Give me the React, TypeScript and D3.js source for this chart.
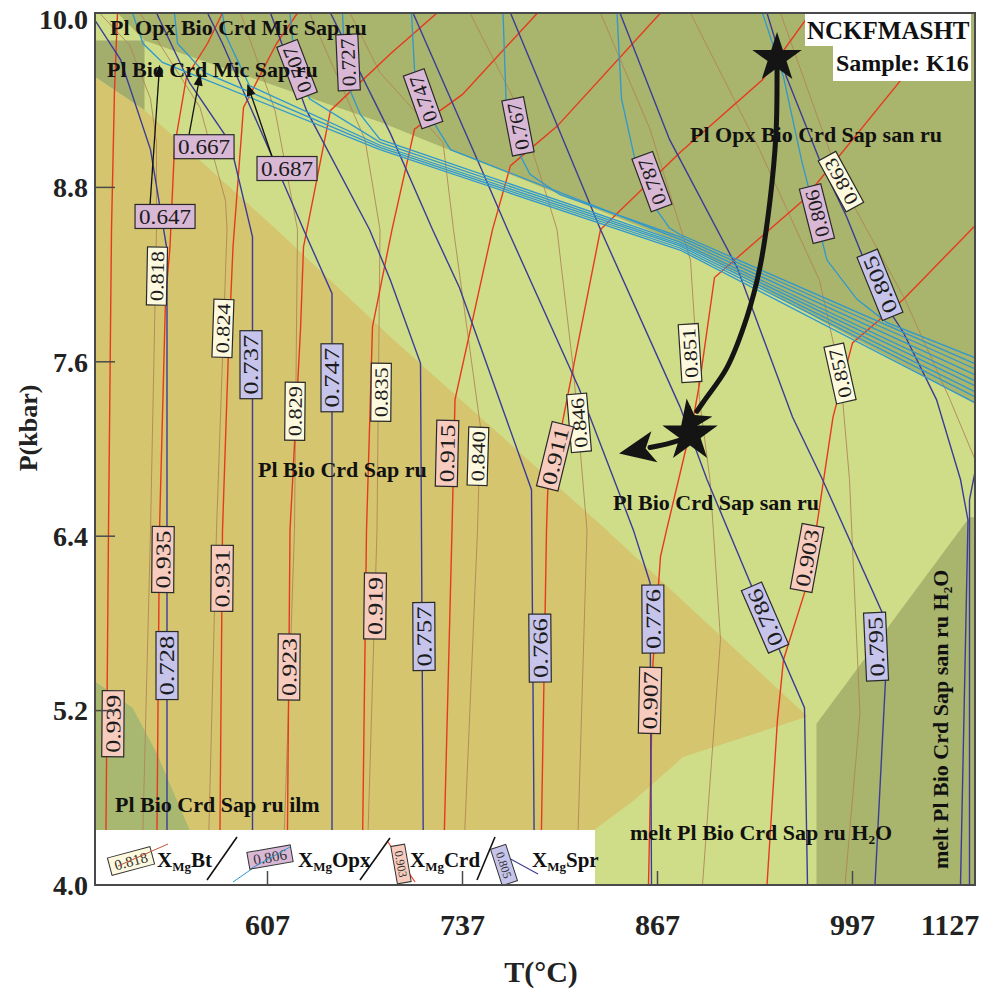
import React from "react";
import * as d3 from "d3";

type Pt = [number, number];
type Tag = { v: string; line: number; t: number; p: number };

const pressureTicks = [4.0, 5.2, 6.4, 7.6, 8.8, 10.0];
const temperatureTicks = [607, 737, 867, 997, 1127];

// ---- phase fields [T(°C), P(kbar)] ----
const fieldOpxSan: Pt[] = [[507, 10.0], [1079, 10.0], [1079, 7.31], [975, 7.89], [882, 8.42], [682, 9.25], [525, 9.81]];
const fieldMic: Pt[] = [[492, 9.81], [525, 9.81], [525, 9.33], [492, 9.56]];
const fieldRu: Pt[] = [[492, 9.56], [525, 9.33], [613, 8.51], [689, 7.77], [829, 6.48], [967, 5.16], [884, 4.88], [851, 4.58], [825, 4.38], [825, 4.0], [492, 4.0]];
const fieldIlm: Pt[] = [[492, 5.4], [517, 5.22], [533, 4.91], [555, 4.38], [562, 4.0], [492, 4.0]];
const fieldMeltSan: Pt[] = [[973, 5.11], [1075, 6.53], [1079, 6.53], [1079, 4.0], [973, 4.0]];

// ---- isopleths ----
const crdLines: Pt[][] = [
  [[499, 4.0], [501, 6.44], [503, 8.51], [505, 9.47], [507, 10.0]],
  [[533, 4.0], [535, 6.44], [539, 8.03], [542, 8.39], [545, 9.08], [553, 9.56], [567, 9.79], [577, 10.0]],
  [[575, 4.0], [577, 6.44], [581, 7.68], [584, 8.39], [591, 9.35], [613, 9.79], [627, 10.0]],
  [[620, 4.0], [622, 6.44], [629, 7.82], [631, 8.39], [649, 9.33], [689, 9.72], [720, 10.0]],
  [[670, 4.0], [673, 6.44], [677, 7.84], [690, 8.51], [705, 9.2], [737, 9.44], [787, 10.0]],
  [[724, 4.0], [730, 6.44], [732, 7.34], [757, 8.51], [769, 8.95], [800, 9.22], [869, 10.0]],
  [[789, 4.0], [793, 6.44], [794, 6.77], [803, 7.15], [829, 8.51], [882, 9.04], [937, 9.54], [969, 10.0]],
  [[861, 4.0], [864, 5.53], [869, 6.26], [873, 6.44], [891, 7.22], [895, 7.45], [905, 8.18], [964, 8.71], [1031, 9.56], [1057, 10.0]],
  [[940, 4.0], [947, 5.14], [951, 5.55], [965, 6.01], [973, 6.46], [984, 7.22], [997, 7.73], [1031, 8.03], [1079, 8.54]],
];

const sprLines: Pt[][] = [
  [[492, 9.95], [509, 9.68], [529, 9.06], [540, 8.37], [540, 4.0]],
  [[533, 10.0], [555, 9.52], [582, 9.11], [597, 8.46], [597, 4.0]],
  [[567, 10.0], [577, 9.79], [611, 8.99], [631, 8.51], [650, 8.07], [650, 4.0]],
  [[609, 10.0], [633, 9.33], [675, 8.51], [689, 8.16], [709, 7.59], [711, 4.0]],
  [[649, 10.0], [689, 9.17], [717, 8.51], [735, 8.11], [783, 6.72], [785, 4.0]],
  [[704, 10.0], [749, 8.94], [767, 8.51], [815, 7.41], [851, 6.44], [862, 6.08], [863, 4.0]],
  [[769, 10.0], [829, 8.51], [882, 7.29], [900, 6.79], [930, 6.05], [965, 5.22], [967, 4.0]],
  [[842, 10.0], [875, 9.13], [920, 8.25], [957, 7.22], [977, 6.79], [1017, 5.87], [1019, 5.41], [1012, 4.0]],
  [[940, 10.0], [953, 9.56], [975, 8.99], [993, 8.6], [1013, 8.09], [1031, 7.8], [1053, 7.34], [1069, 6.79], [1074, 6.51], [1069, 4.0]],
  [[1079, 6.86], [1075, 6.65], [1075, 4.0]],
];

const btLines: Pt[][] = [
  [[495, 10.0], [515, 9.78], [529, 9.41], [533, 9.11], [533, 8.51], [529, 6.44], [523, 4.0]],
  [[522, 10.0], [562, 9.35], [579, 8.71], [580, 8.51], [573, 6.44], [567, 4.0]],
  [[589, 10.0], [612, 9.33], [627, 8.51], [625, 6.44], [617, 4.0]],
  [[635, 10.0], [672, 9.13], [682, 8.51], [680, 6.44], [673, 4.0]],
  [[662, 10.0], [682, 9.59], [724, 9.11], [731, 8.51], [749, 7.15], [747, 6.44], [737, 4.0]],
  [[742, 10.0], [775, 9.33], [792, 8.78], [800, 8.51], [811, 7.54], [820, 6.44], [813, 4.0]],
  [[829, 10.0], [862, 9.2], [889, 8.3], [895, 7.34], [902, 6.79], [909, 5.69], [897, 4.0]],
  [[889, 10.0], [935, 9.06], [975, 8.16], [989, 7.51], [995, 6.79], [1002, 5.18], [992, 4.0]],
  [[949, 10.0], [989, 8.84], [1032, 8.03], [1062, 7.34], [1079, 6.92]],
];

const opxLines: Pt[][] = [
  [[517, 10.0], [524, 9.79], [537, 9.66], [682, 9.06], [882, 8.369], [1079, 7.317]],
  [[545, 10.0], [547, 9.79], [565, 9.59], [682, 9.075], [882, 8.383], [1079, 7.358]],
  [[577, 10.0], [579, 9.85], [595, 9.5], [682, 9.09], [882, 8.397], [1079, 7.392]],
  [[622, 10.0], [625, 9.68], [635, 9.41], [682, 9.11], [882, 8.41], [1079, 7.434]],
  [[657, 10.0], [659, 9.54], [669, 9.3], [682, 9.13], [882, 8.424], [1079, 7.468]],
  [[703, 10.0], [705, 9.61], [717, 9.26], [729, 9.06], [882, 8.442], [1079, 7.509]],
  [[764, 10.0], [766, 9.41], [772, 9.09], [782, 8.89], [802, 8.75], [882, 8.459], [1079, 7.55]],
  [[840, 10.0], [843, 9.41], [852, 8.99], [862, 8.71], [875, 8.52], [882, 8.476], [1079, 7.585]],
  [[937, 10.0], [951, 9.56], [963, 8.99], [980, 8.3], [1000, 8.03], [1020, 7.87], [1079, 7.626]],
];

// ---- isopleth labels ----
const crdTags: Tag[] = [
  { v: "0.939", line: 0, t: 504, p: 5.11 },
  { v: "0.935", line: 1, t: 537.3, p: 6.24 },
  { v: "0.931", line: 2, t: 576.7, p: 6.11 },
  { v: "0.923", line: 3, t: 621.3, p: 5.5 },
  { v: "0.919", line: 4, t: 678.7, p: 5.92 },
  { v: "0.915", line: 5, t: 726.7, p: 6.97 },
  { v: "0.911", line: 6, t: 798.7, p: 6.95 },
  { v: "0.907", line: 7, t: 862, p: 5.27 },
  { v: "0.903", line: 8, t: 966.7, p: 6.25 },
];
const sprTags: Tag[] = [
  { v: "0.728", line: 0, t: 540, p: 5.51 },
  { v: "0.737", line: 1, t: 596, p: 7.58 },
  { v: "0.747", line: 2, t: 650, p: 7.49 },
  { v: "0.757", line: 3, t: 711.3, p: 5.71 },
  { v: "0.766", line: 4, t: 788.7, p: 5.63 },
  { v: "0.776", line: 5, t: 864, p: 5.83 },
  { v: "0.786", line: 6, t: 938.7, p: 5.84 },
  { v: "0.795", line: 7, t: 1012.7, p: 5.64 },
  { v: "0.805", line: 8, t: 1015.3, p: 8.13 },
];
const btTags: Tag[] = [
  { v: "0.818", line: 0, t: 533.3, p: 8.19 },
  { v: "0.824", line: 1, t: 577.3, p: 7.83 },
  { v: "0.829", line: 2, t: 625.3, p: 7.26 },
  { v: "0.835", line: 3, t: 682.7, p: 7.39 },
  { v: "0.840", line: 4, t: 747.3, p: 6.95 },
  { v: "0.846", line: 5, t: 814.7, p: 7.18 },
  { v: "0.851", line: 6, t: 888.7, p: 7.66 },
  { v: "0.857", line: 7, t: 988.7, p: 7.52 },
  { v: "0.863", line: 8, t: 989.3, p: 8.84 },
];
const opxTags: Tag[] = [
  { v: "0.707", line: 3, t: 626.7, p: 9.61 },
  { v: "0.727", line: 4, t: 660.7, p: 9.66 },
  { v: "0.747", line: 5, t: 710.7, p: 9.41 },
  { v: "0.767", line: 6, t: 774, p: 9.22 },
  { v: "0.787", line: 7, t: 863.3, p: 8.84 },
  { v: "0.806", line: 8, t: 973.3, p: 8.62 },
];
const opxCallouts = [
  { v: "0.647", t: 538.7, p: 8.6, tipT: 535, tipP: 9.63 },
  { v: "0.667", t: 564.7, p: 9.08, tipT: 562, tipP: 9.57 },
  { v: "0.687", t: 620, p: 8.93, tipT: 594, tipP: 9.5 },
];

// ---- field names ----
const fieldNames = [
  { text: "Pl Opx Bio Crd Mic Sap ru", t: 502, p: 9.85, rot: 0 },
  { text: "Pl Bio Crd Mic Sap ru", t: 500, p: 9.56, rot: 0 },
  { text: "Pl Opx Bio Crd Sap san ru", t: 888.7, p: 9.11, rot: 0 },
  { text: "Pl Bio Crd Sap ru", t: 600.7, p: 6.81, rot: 0 },
  { text: "Pl Bio Crd Sap san ru", t: 837.3, p: 6.58, rot: 0 },
  { text: "Pl Bio Crd Sap ru ilm", t: 505.3, p: 4.5, rot: 0 },
  { text: "melt Pl Bio Crd Sap ru H2O", t: 848.7, p: 4.31, rot: 0 },
  { text: "melt Pl Bio Crd Sap san ru H2O", t: 1060.7, p: 5.14, rot: -90 },
];

// ---- P–T path ----
const peakStar: Pt = [946.7, 9.69];
const retroStar: Pt = [888.7, 7.1];
const pathDecompression: Pt[] = [[946.7, 9.61], [946, 9.17], [942, 8.71], [935.3, 8.25], [926.7, 7.91], [913.3, 7.56], [898.7, 7.34], [893.3, 7.26]];
const pathCooling: Pt[] = [[887.3, 7.08], [875.3, 7.04], [862, 7.01]];

const FONT = '"Liberation Serif", "Times New Roman", Times, serif';
const RED = "#e8391f";
const NAVY = "#3c3c98";
const CYAN = "#2f98cf";
const BROWN = "#b08658";
const FILL_BT = "#fcf9de";
const FILL_OPX = "#d9b8d6";
const FILL_CRD = "#f7ccbe";
const FILL_SPR = "#c6c4ea";

function withSub(s: string) {
  if (!s.endsWith("H2O")) return s;
  return (
    <>
      {s.slice(0, -3)}H<tspan fontSize="0.6em" dy="4">2</tspan>
      <tspan dy="-4">O</tspan>
    </>
  );
}

export default function App() {
  const L = 95, R = 975, T = 13, B = 885;
  const x = d3.scaleLinear().domain([492, 1078.67]).range([L, R]);
  const y = d3.scaleLinear().domain([4, 10]).range([B, T]);
  const line = d3.line<Pt>().x((d) => x(d[0])).y((d) => y(d[1]));
  const curve = d3.line<Pt>().x((d) => x(d[0])).y((d) => y(d[1])).curve(d3.curveCatmullRom.alpha(0.5));
  const poly = (pts: Pt[]) => (line(pts) || "") + "Z";

  const angleOn = (pts: Pt[], cx: number, cy: number) => {
    let best = Infinity;
    let ang = -90;
    for (let i = 0; i < pts.length - 1; i++) {
      const ax = x(pts[i][0]), ay = y(pts[i][1]);
      const bx = x(pts[i + 1][0]), by = y(pts[i + 1][1]);
      const dx = bx - ax, dy = by - ay;
      const l2 = dx * dx + dy * dy || 1;
      let u = ((cx - ax) * dx + (cy - ay) * dy) / l2;
      u = Math.max(0, Math.min(1, u));
      const px = ax + u * dx, py = ay + u * dy;
      const d = (px - cx) ** 2 + (py - cy) ** 2;
      if (d < best) {
        best = d;
        let ux = dx, uy = dy;
        if (uy > 0) { ux = -ux; uy = -uy; }
        ang = (Math.atan2(uy, ux) * 180) / Math.PI;
      }
    }
    return ang;
  };

  const tagBox = (key: string, cx: number, cy: number, ang: number, text: string, fill: string, len: number, h: number, fs: number) => (
    <g key={key} transform={`translate(${cx},${cy}) rotate(${ang})`}>
      <rect x={-len / 2} y={-h / 2} width={len} height={h} fill={fill} stroke="#2a2a2a" strokeWidth={1.2} />
      <text x={0} y={0} dy="0.35em" textAnchor="middle" fontFamily={FONT} fontSize={fs} fill="#1c1c1c" textLength={len - 8} lengthAdjust="spacingAndGlyphs">
        {text}
      </text>
    </g>
  );

  const tagsFor = (tags: Tag[], lines: Pt[][], fill: string, len: number, h: number, fs: number, prefix: string) =>
    tags.map((tg, i) => {
      const cx = x(tg.t), cy = y(tg.p);
      return tagBox(prefix + i, cx, cy, angleOn(lines[tg.line], cx, cy), tg.v, fill, len, h, fs);
    });

  const star = (s: number) => d3.symbol().type(d3.symbolStar).size(s)() || "";

  const legendText = (xx: number, name: string) => (
    <text x={xx} y={867} fontFamily={FONT} fontWeight="bold" fontSize={21} fill="#111">
      X<tspan fontSize={13} dy={4}>Mg</tspan>
      <tspan dy={-4}>{name}</tspan>
    </text>
  );

  return (
    <div style={{ position: "absolute", left: 0, top: 0, width: 984, height: 990, background: "#fff" }}>
      <svg width={984} height={990} style={{ display: "block" }}>
        <defs>
          <clipPath id="plot">
            <rect x={L} y={T} width={R - L} height={B - T} />
          </clipPath>
          <marker id="bigHead" markerUnits="userSpaceOnUse" markerWidth={44} markerHeight={36} viewBox="-2 -16 36 32" refX={4} refY={0} orient="auto">
            <path d="M0,-14 L32,0 L0,14 L8,0 Z" fill="#141414" />
          </marker>
          <marker id="smallHead" markerUnits="userSpaceOnUse" markerWidth={14} markerHeight={12} viewBox="0 -6 12 12" refX={10} refY={0} orient="auto">
            <path d="M0,-4.5 L12,0 L0,4.5 Z" fill="#111" />
          </marker>
        </defs>

        <g clipPath="url(#plot)">
          <rect x={L} y={T} width={R - L} height={B - T} fill="#cfdd88" />
          <path d={poly(fieldOpxSan)} fill="#a9b46c" />
          <path d={poly(fieldMic)} fill="#a3ae6d" />
          <path d={poly(fieldRu)} fill="#d5c56f" />
          <path d={poly(fieldIlm)} fill="#a8b870" />
          <path d={poly(fieldMeltSan)} fill="#a9b46d" />

          {btLines.map((l, i) => (
            <path key={"bt" + i} d={line(l) || ""} fill="none" stroke={BROWN} strokeWidth={0.9} />
          ))}
          {crdLines.map((l, i) => (
            <path key={"crd" + i} d={line(l) || ""} fill="none" stroke={RED} strokeWidth={1.4} />
          ))}
          {sprLines.map((l, i) => (
            <path key={"spr" + i} d={line(l) || ""} fill="none" stroke={NAVY} strokeWidth={1.4} />
          ))}
          {opxLines.map((l, i) => (
            <path key={"opx" + i} d={line(l) || ""} fill="none" stroke={CYAN} strokeWidth={1.3} />
          ))}
        </g>

        {/* isopleth labels */}
        {tagsFor(btTags, btLines, FILL_BT, 58, 20, 19, "tb")}
        {tagsFor(crdTags, crdLines, FILL_CRD, 66, 22, 21, "tc")}
        {tagsFor(sprTags, sprLines, FILL_SPR, 68, 22, 21, "ts")}
        {tagsFor(opxTags, opxLines, FILL_OPX, 56, 22, 20, "to")}
        {opxCallouts.map((c, i) => {
          const cx = x(c.t), cy = y(c.p);
          return (
            <g key={"oc" + i}>
              <line x1={cx - 15} y1={cy - 12} x2={x(c.tipT)} y2={y(c.tipP)} stroke="#111" strokeWidth={1.3} markerEnd="url(#smallHead)" />
              {tagBox("ocb" + i, cx, cy, 0, c.v, FILL_OPX, 60, 24, 21)}
            </g>
          );
        })}

        {/* field names (on top of labels) */}
        {fieldNames.map((f, i) => (
          <text
            key={"fn" + i}
            transform={`translate(${x(f.t)},${y(f.p)}) rotate(${f.rot})`}
            textAnchor={f.rot ? "middle" : "start"}
            fontFamily={FONT}
            fontWeight="bold"
            fontSize={22}
            fill="#111"
          >
            {withSub(f.text)}
          </text>
        ))}

        {/* P–T path */}
        <path d={curve(pathDecompression) || ""} fill="none" stroke="#141414" strokeWidth={5} strokeLinecap="round" markerEnd="url(#bigHead)" />
        <path d={curve(pathCooling) || ""} fill="none" stroke="#141414" strokeWidth={5} strokeLinecap="round" markerEnd="url(#bigHead)" />
        <path d={star(760)} transform={`translate(${x(peakStar[0])},${y(peakStar[1])})`} fill="#141414" />
        <path d={star(950)} transform={`translate(${x(retroStar[0])},${y(retroStar[1])})`} fill="#141414" />

        {/* title boxes */}
        <rect x={805} y={14} width={166} height={32} fill="#fff" />
        <rect x={833} y={45} width={138} height={36} fill="#fff" />
        <text x={807} y={39} fontFamily={FONT} fontWeight="bold" fontSize={25} fill="#111">NCKFMASHT</text>
        <text x={836} y={71} fontFamily={FONT} fontWeight="bold" fontSize={24} fill="#111">Sample: K16</text>

        {/* legend */}
        <rect x={L} y={830} width={500} height={55} fill="#fff" />
        <g transform="translate(131,861) rotate(-15)">
          <rect x={-22} y={-9} width={44} height={18} fill={FILL_BT} stroke="#333" strokeWidth={1} />
          <text dy="0.35em" textAnchor="middle" fontFamily={FONT} fontSize={15} fill="#333">0.818</text>
        </g>
        <line x1={118} y1={866} x2={168} y2={844} stroke="#c0553a" strokeWidth={1} />
        {legendText(157, "Bt")}
        <line x1={207} y1={880} x2={237} y2={837} stroke="#111" strokeWidth={1.6} />
        <line x1={233} y1={882} x2={282} y2={848} stroke={CYAN} strokeWidth={1} />
        <g transform="translate(270,857) rotate(-10)">
          <rect x={-22} y={-8.5} width={44} height={17} fill={FILL_OPX} stroke="#333" strokeWidth={1} />
          <text dy="0.35em" textAnchor="middle" fontFamily={FONT} fontSize={15} fill="#333">0.806</text>
        </g>
        <line x1={252} y1={868} x2={290} y2={847} stroke={CYAN} strokeWidth={1} />
        {legendText(298, "Opx")}
        <line x1={360} y1={880} x2={390} y2={838} stroke="#111" strokeWidth={1.6} />
        <line x1={388} y1={842} x2={415} y2={882} stroke={RED} strokeWidth={1.2} />
        <g transform="translate(401,864) rotate(80)">
          <rect x={-19} y={-7} width={38} height={14} fill={FILL_CRD} stroke="#333" strokeWidth={1} />
          <text dy="0.35em" textAnchor="middle" fontFamily={FONT} fontSize={12} fill="#333">0.903</text>
        </g>
        {legendText(410, "Crd")}
        <line x1={477} y1={880} x2={495} y2={837} stroke="#111" strokeWidth={1.6} />
        <line x1={505} y1={856} x2={538} y2={874} stroke={NAVY} strokeWidth={1.2} />
        <g transform="translate(504,865) rotate(72)">
          <rect x={-19} y={-8} width={38} height={16} fill={FILL_SPR} stroke="#333" strokeWidth={1} />
          <text dy="0.35em" textAnchor="middle" fontFamily={FONT} fontSize={12} fill="#333">0.805</text>
        </g>
        {legendText(532, "Spr")}

        {/* frame and axes */}
        <rect x={L} y={T} width={R - L} height={B - T} fill="none" stroke="#4a4a4a" strokeWidth={2} />
        {pressureTicks.map((p) => (
          <g key={"py" + p}>
            {p > 4 && p < 10 ? <line x1={L} x2={L + 20} y1={y(p)} y2={y(p)} stroke="#4a4a4a" strokeWidth={1.5} /> : null}
            <text x={88} y={Math.max(y(p), 19)} dy="0.35em" textAnchor="end" fontFamily={FONT} fontWeight="bold" fontSize={28} fill="#222">
              {p.toFixed(1)}
            </text>
          </g>
        ))}
        {temperatureTicks.map((t) => {
          const px = x(t);
          const inside = px <= R;
          return (
            <g key={"tx" + t}>
              {inside ? <line x1={px} x2={px} y1={B} y2={B - 14} stroke="#4a4a4a" strokeWidth={1.5} /> : null}
              <text x={Math.min(px, R - 25)} y={935} textAnchor="middle" fontFamily={FONT} fontWeight="bold" fontSize={30} fill="#222">
                {t}
              </text>
            </g>
          );
        })}
        <text transform="translate(37,428) rotate(-90)" textAnchor="middle" fontFamily={FONT} fontWeight="bold" fontSize={26} fill="#222">
          P(kbar)
        </text>
        <text x={541} y={982} textAnchor="middle" fontFamily={FONT} fontWeight="bold" fontSize={30} fill="#222">
          T(°C)
        </text>
      </svg>
    </div>
  );
}
